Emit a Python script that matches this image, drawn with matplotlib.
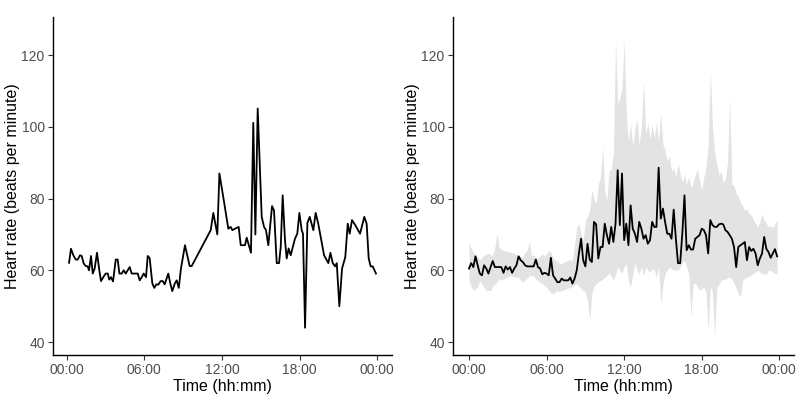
import numpy as np
import matplotlib
matplotlib.use("Agg")
import matplotlib.pyplot as plt

plt.rcParams['font.family'] = ['Liberation Sans', 'DejaVu Sans']

# Left panel: single day, irregular readings (hours since midnight, bpm)
day_hours = [0.18, 0.33, 0.51, 0.70, 0.85, 1.03, 1.16, 1.31, 1.47, 1.62, 1.72, 1.88, 2.01,
             2.16, 2.34, 2.52, 2.65, 2.83, 3.01, 3.17, 3.29, 3.42, 3.58, 3.79, 3.94, 4.07,
             4.25, 4.40, 4.56, 4.71, 4.87, 5.02, 5.23, 5.49, 5.64, 5.80, 5.95, 6.13, 6.26,
             6.41, 6.62, 6.77, 6.92, 7.08, 7.26, 7.42, 7.57, 7.85, 8.01, 8.16, 8.35, 8.50,
             8.66, 8.83, 9.14, 9.50, 9.66, 11.13, 11.33, 11.64, 11.80, 12.10, 12.49, 12.67,
             12.80, 13.29, 13.45, 13.78, 13.91, 14.24, 14.42, 14.58, 14.76, 15.07, 15.25,
             15.40, 15.58, 15.87, 16.02, 16.23, 16.41, 16.54, 16.69, 16.87, 17.00, 17.15,
             17.31, 17.64, 17.82, 17.98, 18.16, 18.26, 18.42, 18.60, 18.78, 19.06, 19.24,
             19.44, 19.89, 20.22, 20.38, 20.56, 20.74, 20.87, 21.07, 21.28, 21.53, 21.72,
             21.87, 22.05, 22.30, 22.67, 23.00, 23.18, 23.34, 23.49, 23.65, 23.90]
day_bpm = [62.1, 66.0, 64.2, 63.0, 63.0, 64.2, 64.0, 61.9, 61.2, 61.1, 60.0, 64.0, 59.1,
           60.5, 64.9, 60.0, 57.0, 58.1, 59.1, 59.1, 57.4, 58.1, 56.9, 63.0, 63.0, 59.1,
           59.1, 60.0, 59.1, 60.0, 60.9, 59.1, 59.1, 59.1, 57.2, 58.1, 59.1, 58.1, 64.0,
           63.4, 56.3, 55.1, 56.1, 56.0, 57.0, 57.0, 56.1, 59.1, 56.3, 54.2, 56.3, 57.2,
           55.1, 60.5, 67.0, 61.2, 61.2, 71.2, 76.0, 70.0, 87.0, 80.4, 71.6, 72.1,
           71.2, 72.1, 67.0, 67.0, 69.1, 64.9, 101.1, 70.0, 105.1, 74.9, 72.1,
           71.2, 67.0, 77.9, 76.7, 62.0, 62.0, 66.5, 80.9, 68.4, 63.3, 66.1,
           64.2, 68.8, 70.2, 76.0, 71.2, 70.2, 44.0, 73.2, 74.9, 71.2, 76.0,
           73.0, 64.2, 62.0, 64.9, 62.0, 61.1, 62.0, 50.0, 60.5, 63.7, 73.0,
           70.2, 74.0, 72.6, 70.2, 74.9, 73.0, 63.3, 61.1, 61.1, 59.1]

# Right panel: 10-minute bins averaged over days, with spread band
bin_hours = np.arange(144) / 6
mean_bpm = [60.5, 62.0, 60.9, 63.9, 61.4, 59.1,  58.6, 61.4, 60.5, 59.1, 60.9, 62.6,
            60.9, 60.9, 60.9, 60.9, 59.3, 61.1,  60.2, 60.9, 59.3, 60.5, 61.4, 63.9,
            62.8, 62.3, 61.4, 61.1, 61.1, 61.1,  61.1, 63.0, 60.9, 60.5, 58.9, 59.3,
            59.1, 58.6, 63.5, 58.6, 57.7, 56.7,  56.7, 57.7, 57.2, 57.2, 57.2, 58.0,
            56.3, 57.7, 60.0, 64.7, 68.8, 62.8,  61.1, 67.4, 63.0, 62.3, 73.5, 72.8,
            63.3, 66.5, 66.5, 73.0, 69.8, 67.4,  72.1, 67.9, 73.0, 87.9, 72.6, 87.0,
            68.4, 73.0, 67.0, 78.1, 71.6, 70.2,  67.9, 73.5, 71.6, 68.8, 69.8, 67.4,
            68.4, 73.5, 72.1, 72.1, 88.6, 74.4,  77.2, 73.5, 70.2, 70.2, 68.8, 76.9,
            68.8, 62.0, 62.0, 70.2, 80.9, 65.6,  67.0, 65.8, 65.8, 68.8, 69.3, 69.8,
            71.6, 71.2, 69.8, 64.7, 74.0, 72.6,  72.1, 72.1, 72.8, 73.0, 72.8, 71.2,
            70.7, 69.8, 68.8, 66.5, 60.9, 66.5,  67.0, 67.4, 67.9, 62.8, 66.5, 65.4,
            66.0, 64.7, 61.4, 63.3, 64.7, 69.3,  66.0, 65.1, 63.5, 64.7, 65.9, 63.9]
upper_bpm = [67.9, 66.0, 65.1, 64.2, 63.7, 63.0,  63.5, 64.2, 64.5, 64.7, 64.4, 64.2,
             66.5, 70.2, 66.5, 65.8, 65.6, 65.3,  65.3, 65.1, 64.9, 64.7, 64.4, 64.2,
             63.7, 63.7, 65.1, 65.6, 68.0, 64.2,  64.2, 63.7, 63.3, 64.0, 64.5, 64.0,
             64.7, 65.6, 65.0, 63.5, 62.8, 62.5,  61.9, 61.9, 62.3, 62.5, 62.8, 63.0,
             62.8, 67.0, 72.1, 73.0, 70.0, 68.4,  74.0, 74.9, 76.7, 82.3, 80.0, 78.6,
             84.0, 86.0, 94.4, 82.0, 79.5, 87.9,  88.0, 92.6, 124.0, 106.5, 108.0, 111.0,
             124.0, 103.7, 96.0, 101.0, 94.5, 99.5,  102.0, 95.0, 100.0, 113.0, 98.0, 101.0,
             96.5, 100.5, 97.0, 101.0, 96.0, 103.7,  95.0, 93.5, 90.5, 92.0, 87.5, 88.5,
             86.0, 89.8, 87.0, 84.5, 86.5, 84.0,  86.0, 83.0, 84.5, 86.5, 88.0, 85.0,
             82.3, 86.0, 88.8, 95.0, 115.8, 100.0,  93.0, 89.8, 86.5, 87.5, 84.5, 85.5,
             90.0, 108.4, 84.0, 83.5, 81.5, 80.5,  79.0, 78.0, 76.7, 77.0, 75.8, 75.4,
             74.0, 73.0, 72.1, 73.5, 75.8, 74.0,  73.0, 72.1, 72.5, 71.8, 73.0, 74.0]
lower_bpm = [57.2, 55.5, 54.4, 55.0, 55.3, 57.2,  56.0, 55.3, 54.4, 54.4, 54.4, 55.5,
             56.3, 56.7, 57.7, 57.2, 57.5, 57.9,  58.1, 58.6, 58.4, 58.1, 58.1, 58.1,
             57.2, 56.7, 57.2, 57.9, 58.6, 58.4,  58.6, 57.5, 57.2, 56.7, 56.3, 55.8,
             55.3, 54.4, 53.8, 53.5, 54.0, 54.4,  54.0, 54.4, 54.4, 54.8, 55.0, 55.3,
             55.3, 56.0, 56.3, 55.5, 55.0, 54.4,  54.0, 51.5, 46.0, 53.5, 55.5, 56.3,
             56.7, 57.2, 57.5, 58.0, 58.6, 59.1,  58.5, 57.2, 59.0, 60.9, 60.0, 59.1,
             61.0, 61.9, 57.0, 55.3, 59.0, 61.9,  60.0, 59.0, 60.9, 58.5, 60.9, 60.0,
             59.5, 60.5, 60.0, 58.0, 60.9, 50.7,  56.0, 59.1, 60.0, 60.9, 60.5, 60.0,
             60.0, 60.0, 61.0, 62.0, 62.8, 61.0,  59.1, 47.0, 56.0, 56.5, 55.5, 54.5,
             55.0, 55.3, 54.0, 43.3, 55.3, 54.0,  41.5, 55.3, 56.0, 57.2, 57.5, 57.5,
             58.0, 58.1, 57.5, 56.3, 55.0, 53.5,  52.6, 57.2, 57.8, 58.1, 58.3, 58.6,
             59.1, 59.5, 60.0, 59.5, 59.1, 59.0,  59.0, 60.0, 60.0, 59.5, 59.1, 59.1]

tick_hours = [0, 6, 12, 18, 24]
tick_labels = ["00:00", "06:00", "12:00", "18:00", "00:00"]


def style_axes(ax):
    # theme_classic look
    ax.spines['top'].set_visible(False)
    ax.spines['right'].set_visible(False)
    for side in ('left', 'bottom'):
        ax.spines[side].set_linewidth(1.0)
        ax.spines[side].set_color('black')
    ax.tick_params(axis='both', direction='out', length=3.5, width=0.8,
                   color='#333333', labelcolor='#4d4d4d', labelsize=10, pad=2.5)
    ax.set_xticks(tick_hours)
    ax.set_xticklabels(tick_labels)
    ax.set_yticks([40, 60, 80, 100, 120])
    ax.set_ylim(36.4, 130.6)
    ax.set_xlabel('Time (hh:mm)', fontsize=11.5, labelpad=1)
    ax.set_ylabel('Heart rate (beats per minute)', fontsize=11.5, labelpad=1)


fig = plt.figure(figsize=(8, 4), dpi=100)
ax1 = fig.add_axes([0.06625, 0.1125, 0.42375, 0.845])
ax2 = fig.add_axes([0.56625, 0.1125, 0.42625, 0.845])

ax1.plot(day_hours, day_bpm, color='black', lw=1.3)
ax1.set_xlim(-1.06, 25.14)
style_axes(ax1)

ax2.fill_between(bin_hours, lower_bpm, upper_bpm, color='#e3e3e3', lw=0)
ax2.plot(bin_hours, mean_bpm, color='black', lw=1.3)
ax2.set_xlim(-1.24, 25.14)
style_axes(ax2)

fig.savefig('out.png', dpi=100)
